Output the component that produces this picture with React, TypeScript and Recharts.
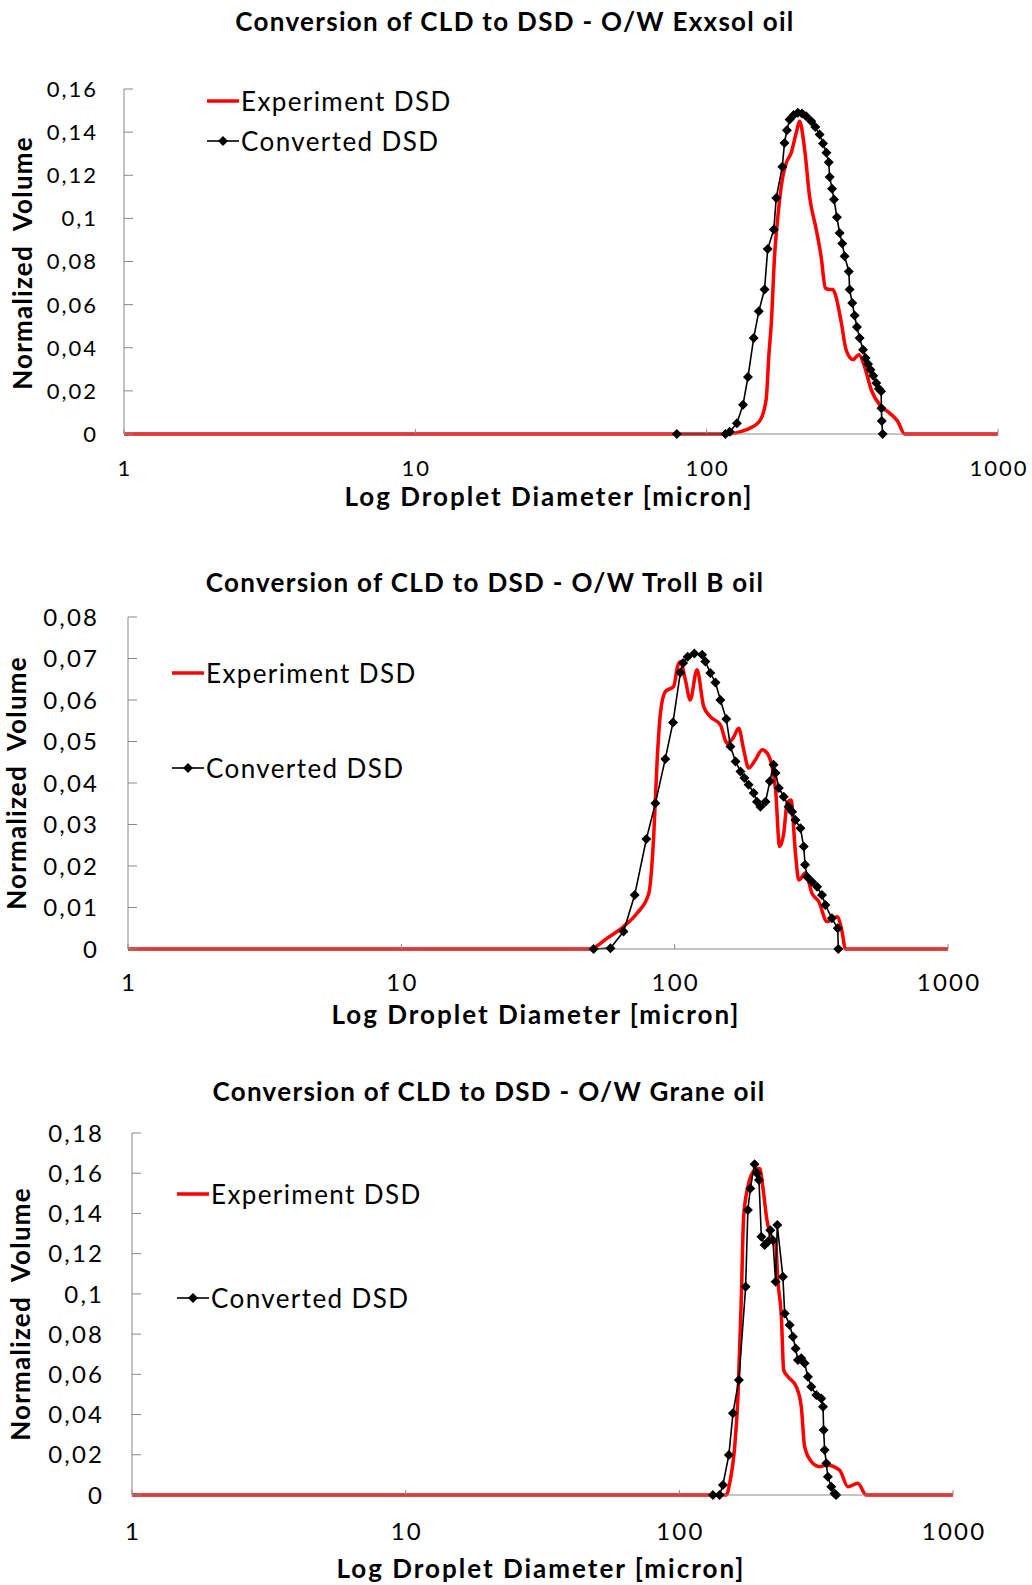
import { Line, LineChart, XAxis, YAxis } from "recharts";

// [diameter (micron), normalized volume]
const exxsolExperiment = [
  [1, 0], [116, 0], [137, 0.002], [152, 0.006], [160, 0.016], [163.6, 0.037], [166.7, 0.0515],
  [171, 0.0824], [175.6, 0.101], [181.8, 0.118], [187.6, 0.1257], [195, 0.1304], [203, 0.1397],
  [208.4, 0.145], [216.9, 0.132], [225.6, 0.11], [237.8, 0.0948], [247, 0.0824], [255.6, 0.0677],
  [264, 0.067], [271, 0.067], [276, 0.065], [290, 0.0515], [301, 0.039], [318, 0.0345], [333, 0.0368],
  [348, 0.0314], [367, 0.0206], [397, 0.0128], [424.5, 0.0097], [453, 0.0058], [478, 0], [1000, 0],
];
const exxsolConverted = [
  [79, 0], [116, 0], [120, 0.001], [127, 0.005], [133.3, 0.0136], [138.6, 0.0264], [145, 0.0445],
  [151, 0.0569], [158, 0.067], [162, 0.0858], [170, 0.0948], [173.3, 0.1095], [181.8, 0.124],
  [185, 0.135], [188.5, 0.1409], [192.6, 0.1458], [198.8, 0.148], [205.6, 0.149], [212.4, 0.1486],
  [219.6, 0.1474], [228.6, 0.145], [236, 0.1424], [244.2, 0.1389], [250.8, 0.1347], [257.7, 0.1304],
  [262.4, 0.126], [264.4, 0.1192], [269.4, 0.1137], [273.6, 0.1087], [280, 0.1005], [286, 0.0932],
  [292, 0.0883], [297.5, 0.0824], [307.6, 0.0754], [309.6, 0.067], [316, 0.0608], [322, 0.0549],
  [328, 0.0496], [335, 0.0445], [344, 0.0391], [351, 0.0353], [358, 0.0325], [365, 0.0298],
  [373, 0.027], [382, 0.0237], [390, 0.021], [397, 0.0198], [398, 0.012], [399, 0.006], [402, 0],
];

const trollExperiment = [
  [1, 0], [49, 0], [56.6, 0.0026], [65, 0.0054], [72.8, 0.0086], [80.4, 0.0134], [83.8, 0.0271],
  [86.3, 0.0456], [88.7, 0.0568], [92.4, 0.062], [99.2, 0.0633], [102.5, 0.0681], [104.9, 0.0693],
  [109.4, 0.0649], [114, 0.06], [120.7, 0.0673], [127.7, 0.0584], [135, 0.056], [147, 0.054],
  [155.5, 0.0496], [163.6, 0.0508], [171.5, 0.0532], [178.9, 0.048], [186.5, 0.0436], [197.4, 0.0456],
  [209, 0.048], [218, 0.0472], [227, 0.044], [234, 0.0384], [242, 0.0247], [250.7, 0.0279],
  [257.8, 0.0351], [266.6, 0.0359], [276.6, 0.0231], [284.5, 0.0166], [300.9, 0.0183], [318, 0.0134],
  [336.6, 0.0114], [361, 0.0066], [393, 0.0078], [409.6, 0.0042], [421.5, 0], [1000, 0],
];
const trollConverted = [
  [50.5, 0], [58.2, 0.0002], [65, 0.0042], [71.4, 0.013], [78.8, 0.0265], [85, 0.0351], [92.4, 0.0458],
  [98.6, 0.0546], [104.9, 0.0666], [107.4, 0.0689], [111.6, 0.0704], [118, 0.0712], [126, 0.0709],
  [129.5, 0.0693], [135, 0.0665], [141, 0.0642], [147, 0.06], [154.5, 0.0554], [160, 0.0488],
  [167, 0.0452], [174, 0.0428], [180, 0.0412], [186.5, 0.0396], [194.5, 0.0376], [200, 0.0355],
  [206, 0.0343], [215, 0.0355], [223, 0.0404], [230, 0.0444], [234, 0.0424], [240.5, 0.0388],
  [250.7, 0.0367], [261, 0.0343], [269, 0.0331], [276.6, 0.0311], [288.5, 0.0291], [296.6, 0.0247],
  [300, 0.0203], [305, 0.0174], [318, 0.0162], [332, 0.015], [346, 0.013], [356, 0.0106],
  [376, 0.0074], [395, 0.005], [397, 0],
];

const graneExperiment = [
  [1, 0], [148.6, 0], [152.7, 0.0058], [159.3, 0.024], [163.8, 0.0489], [168.5, 0.0986],
  [171.8, 0.1383], [178, 0.1532], [188.3, 0.1615], [196.4, 0.1624], [201.9, 0.1532], [209, 0.1367],
  [216.7, 0.1284], [224.8, 0.1259], [229, 0.1069], [236, 0.0886], [240.6, 0.0621], [249.5, 0.0588],
  [267.6, 0.0538], [279, 0.0439], [287, 0.024], [303.6, 0.0166], [325.6, 0.0141], [344.5, 0.0149],
  [385, 0.0124], [413, 0.0041], [449, 0.0058], [482, 0], [1000, 0],
];
const graneConverted = [
  [132.7, 0], [140.3, 0], [144.3, 0.005], [151.7, 0.0199], [157, 0.0406], [165, 0.0572],
  [174.7, 0.1035], [178, 0.1417], [181.7, 0.1524], [188.3, 0.1645], [192.1, 0.16], [195.4, 0.1566],
  [199.4, 0.1284], [205, 0.1243], [211, 0.126], [215, 0.1317], [219.8, 0.1267], [224.8, 0.106],
  [228, 0.1342], [239, 0.1085], [242.6, 0.0903], [253, 0.0845], [260, 0.0787], [266, 0.0729],
  [271.3, 0.0671], [279, 0.068], [287, 0.0655], [295, 0.0588], [303.6, 0.0538], [316.7, 0.0497],
  [330, 0.048], [335, 0.0439], [336.8, 0.0323], [339.6, 0.0224], [344.5, 0.0158], [349, 0.0091],
  [359, 0.0041], [369, 0.0008], [374, 0],
];

const xTicks = [1, 10, 100, 1000];
const yTicksExxsol = [0, 0.02, 0.04, 0.06, 0.08, 0.1, 0.12, 0.14, 0.16];
const yTicksTroll = [0, 0.01, 0.02, 0.03, 0.04, 0.05, 0.06, 0.07, 0.08];
const yTicksGrane = [0, 0.02, 0.04, 0.06, 0.08, 0.1, 0.12, 0.14, 0.16, 0.18];

const FONT = "Lato, 'Open Sans', sans-serif";
const AXIS = "#898989";

const toRows = (pts: number[][]) => pts.map(([d, v]) => ({ d, v }));
const comma = (v: number) => String(v).replace(".", ",");

function Diamond(props: any) {
  const { cx, cy, index } = props;
  if (cx == null || cy == null) return null;
  const s = 5;
  return (
    <path
      key={index}
      d={`M${cx},${cy - s}L${cx + s},${cy}L${cx},${cy + s}L${cx - s},${cy}Z`}
      fill="#000"
    />
  );
}

const makeXTick = (size: number, ls: number) => (props: any) => (
  <text
    x={props.x + ls / 2}
    y={props.y}
    dy="0.71em"
    textAnchor="middle"
    fill="#000"
    fontSize={size}
    fontFamily={FONT}
    style={{ letterSpacing: ls }}
  >
    {props.payload.value}
  </text>
);

const makeYTick = (size: number, ls: number) => (props: any) => (
  <text
    x={props.x + ls}
    y={props.y}
    dy="0.36em"
    textAnchor="end"
    fill="#000"
    fontSize={size}
    fontFamily={FONT}
    style={{ letterSpacing: ls }}
  >
    {comma(props.payload.value)}
  </text>
);

interface PanelProps {
  top: number;
  height: number;
  plotTop: number;
  plotBottom: number;
  plotLeft: number;
  plotRight: number;
  yTicks: number[];
  experiment: number[][];
  converted: number[][];
  title: string;
  titleX: number;
  titleY: number;
  xTitleX: number;
  xTitleY: number;
  yTitleX: number;
  yTitleY: number;
  legendX: number;
  legendY1: number;
  legendY2: number;
  tickFont: number;
  tickSpacing: number;
  xTickMargin: number;
  yGap: number;
}

const bold = {
  position: "absolute" as const,
  whiteSpace: "pre" as const,
  fontFamily: FONT,
  fontWeight: 700,
  fontSize: 26,
  lineHeight: 1,
};

function Panel(p: PanelProps) {
  const h = p.height;
  return (
    <div style={{ position: "absolute", left: 0, top: p.top, width: 1032, height: h }}>
      <LineChart
        width={1032}
        height={h}
        margin={{ top: p.plotTop - p.top, right: 1032 - p.plotRight, bottom: 0, left: 0 }}
      >
        <XAxis
          dataKey="d"
          type="number"
          scale="log"
          domain={[1, 1000]}
          ticks={xTicks}
          allowDataOverflow
          height={p.top + h - p.plotBottom}
          stroke={AXIS}
          tickSize={-5}
          tickMargin={p.xTickMargin}
          tick={makeXTick(p.tickFont, p.tickSpacing)}
        />
        <YAxis
          type="number"
          domain={[0, p.yTicks[p.yTicks.length - 1]]}
          ticks={p.yTicks}
          width={p.plotLeft}
          stroke={AXIS}
          tickSize={-9}
          tickMargin={9 + p.yGap}
          tick={makeYTick(p.tickFont, p.tickSpacing)}
        />
        <Line
          data={toRows(p.experiment)}
          dataKey="v"
          type="monotone"
          stroke="#ff0000"
          strokeWidth={3.5}
          dot={false}
          isAnimationActive={false}
        />
        <Line
          data={toRows(p.converted)}
          dataKey="v"
          type="linear"
          stroke="#000"
          strokeWidth={1.6}
          dot={Diamond}
          activeDot={false}
          isAnimationActive={false}
        />
      </LineChart>
      <div
        style={{
          ...bold,
          left: p.titleX,
          top: p.titleY - p.top,
          transform: "translate(-50%, -50%)",
          letterSpacing: 1.3,
        }}
      >
        {p.title}
      </div>
      <div
        style={{
          ...bold,
          left: p.xTitleX,
          top: p.xTitleY - p.top,
          transform: "translate(-50%, -50%)",
          letterSpacing: 2,
        }}
      >
        Log Droplet Diameter [micron]
      </div>
      <div
        style={{
          ...bold,
          left: p.yTitleX,
          top: p.yTitleY - p.top,
          transform: "translate(-50%, -50%) rotate(-90deg)",
          letterSpacing: 1.2,
        }}
      >
        {"Normalized  Volume"}
      </div>
      {[
        { y: p.legendY1, label: "Experiment DSD", red: true },
        { y: p.legendY2, label: "Converted DSD", red: false },
      ].map((it) => (
        <div
          key={it.label}
          style={{
            position: "absolute",
            left: p.legendX,
            top: it.y - p.top,
            transform: "translateY(-50%)",
            display: "flex",
            alignItems: "center",
            fontFamily: FONT,
            fontSize: 26,
            letterSpacing: 1.4,
            whiteSpace: "nowrap",
          }}
        >
          <svg width={32} height={14} style={{ marginRight: 2 }}>
            {it.red ? (
              <line x1={0} y1={7} x2={32} y2={7} stroke="#ff0000" strokeWidth={3.5} />
            ) : (
              <>
                <line x1={0} y1={7} x2={32} y2={7} stroke="#000" strokeWidth={1.6} />
                <path d="M16,2L21,7L16,12L11,7Z" fill="#000" />
              </>
            )}
          </svg>
          {it.label}
        </div>
      ))}
    </div>
  );
}

export default function App() {
  return (
    <div style={{ position: "absolute", left: 0, top: 0, width: 1032, height: 1585, background: "#fff" }}>
      <Panel
        top={0}
        height={520}
        plotTop={89}
        plotBottom={434}
        plotLeft={124}
        plotRight={998}
        yTicks={yTicksExxsol}
        experiment={exxsolExperiment}
        converted={exxsolConverted}
        title="Conversion of CLD to DSD - O/W Exxsol oil"
        titleX={515}
        titleY={21}
        xTitleX={549}
        xTitleY={496}
        yTitleX={22}
        yTitleY={263}
        legendX={207}
        legendY1={101}
        legendY2={141}
        tickFont={22}
        tickSpacing={2}
        xTickMargin={31}
        yGap={28}
      />
      <Panel
        top={540}
        height={480}
        plotTop={617}
        plotBottom={949}
        plotLeft={128}
        plotRight={948}
        yTicks={yTicksTroll}
        experiment={trollExperiment}
        converted={trollConverted}
        title="Conversion of CLD to DSD - O/W Troll B oil"
        titleX={485}
        titleY={582}
        xTitleX={536}
        xTitleY={1014}
        yTitleX={16}
        yTitleY={783}
        legendX={172}
        legendY1={673}
        legendY2={768}
        tickFont={24}
        tickSpacing={2.2}
        xTickMargin={30}
        yGap={31}
      />
      <Panel
        top={1060}
        height={525}
        plotTop={1133}
        plotBottom={1495}
        plotLeft={132}
        plotRight={953}
        yTicks={yTicksGrane}
        experiment={graneExperiment}
        converted={graneConverted}
        title="Conversion of CLD to DSD - O/W Grane oil"
        titleX={489}
        titleY={1091}
        xTitleX={541}
        xTitleY={1568}
        yTitleX={20}
        yTitleY={1314}
        legendX={177}
        legendY1={1194}
        legendY2={1298}
        tickFont={24}
        tickSpacing={2.2}
        xTickMargin={33}
        yGap={30}
      />
    </div>
  );
}
